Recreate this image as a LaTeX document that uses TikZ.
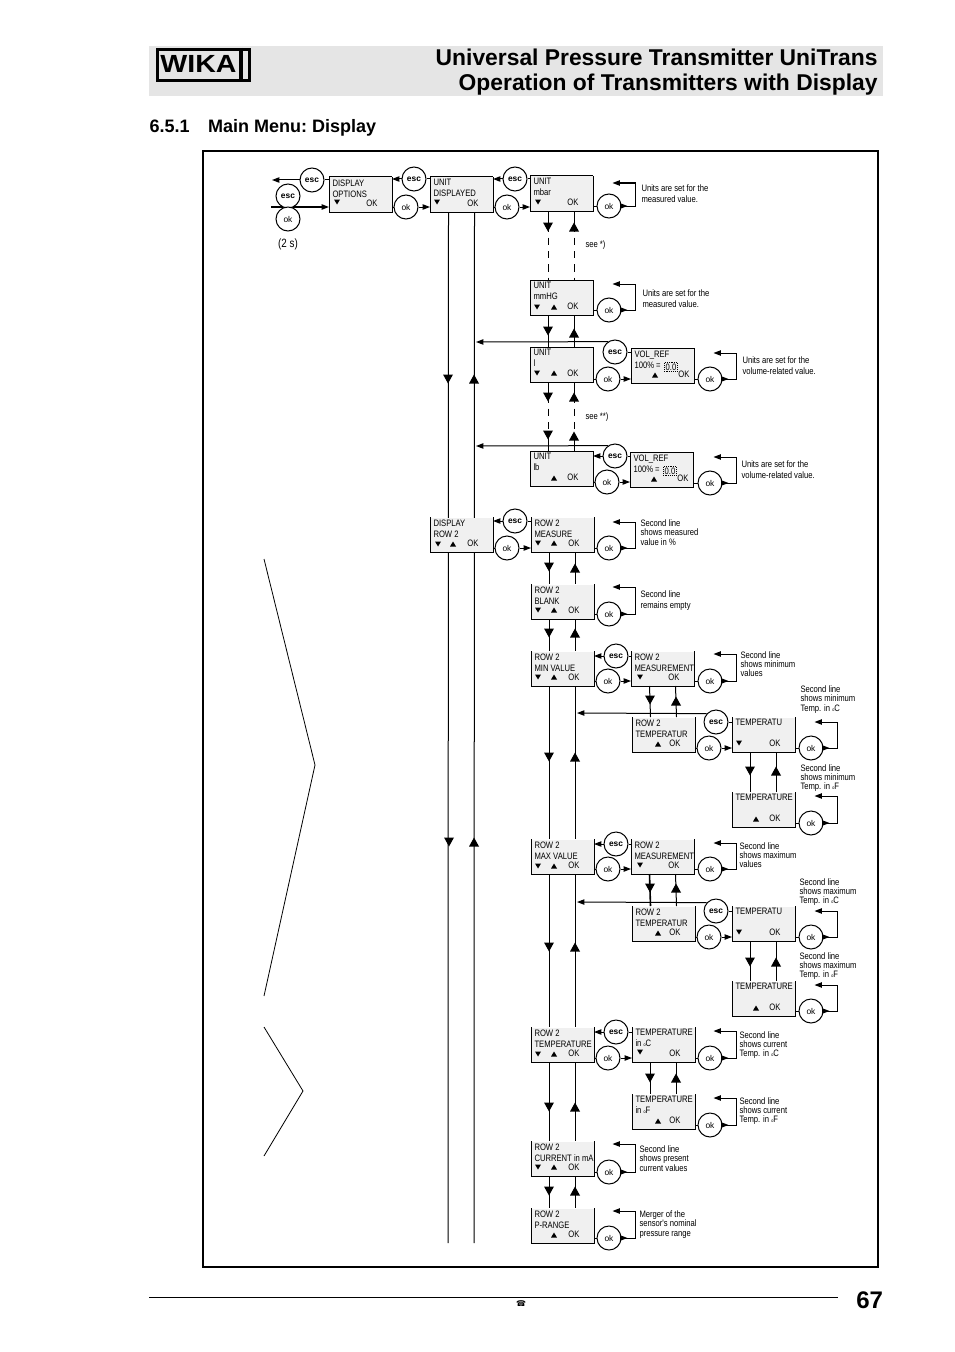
\documentclass[tikz,border=0pt]{standalone}
\usepackage{fontspec}
\setmainfont{Liberation Sans}
\newfontfamily\narrowfont[FakeStretch=0.82]{Liberation Sans}
\newfontfamily\logofont[FakeStretch=1.15]{Liberation Sans}
\newfontfamily\phonefont{DejaVu Sans}
\usetikzlibrary{arrows.meta}

\tikzset{every picture/.style={line width=0.75pt}}
\tikzset{
	lcdbox/.style={fill=black!6,anchor=north west,inner sep=0,minimum width=46.5pt,minimum height=25.5pt},
	lcdtext/.style={font=\narrowfont\fontsize{7}{8.25}\selectfont,anchor=north west,inner sep=0,align=left},
	oktext/.style={font=\narrowfont\fontsize{7}{8.25}\selectfont,inner sep=0},
	note/.style={font=\narrowfont\fontsize{7}{7}\selectfont,anchor=west,inner sep=0,align=left},
	okbtn/.style={circle,draw,fill=white,inner sep=0,minimum size=18pt,font=\fontsize{6.3}{7}\selectfont},
	escbtn/.style={okbtn,font=\bfseries\fontsize{6.3}{7}\selectfont},
	smalltip/.style={-{Triangle[length=5.5pt,width=4pt]}},
	dnleg/.style={xshift=-9.75pt},
	upleg/.style={xshift=9.75pt},
	legdash/.style={dash pattern=on 5.5pt off 4.5pt},
	valuebox/.style={oktext,draw,dash pattern=on 0.8pt off 0.8pt,line width=0.3pt,inner sep=1pt},
	keydn/.pic={\fill (-3,2.5) -- (3,2.5) -- (0,-2.5) -- cycle;},
	keyup/.pic={\fill (-3,-2.5) -- (3,-2.5) -- (0,2.5) -- cycle;},
	flowdn/.pic={\fill (-5,4.5) -- (5,4.5) -- (0,-4.5) -- cycle;},
	flowup/.pic={\fill (-5,-4.5) -- (5,-4.5) -- (0,4.5) -- cycle;},
}

% display box: name, corner, text; the optional value moves the OK
\newcommand{\lcd}[5][43]{
	\node[lcdbox] (#2) at (#3,#4) {};
	\draw (#2.north west) -- (#2.south west) -- (#2.south east) -- (#2.north east);
	\node[lcdtext] (#2-text) at (#3+3,#4+2) {#5};
	\node[oktext] (#2-ok) at (#3+#1,#4+26) {OK};
}
\newcommand{\lcdtop}[1]{\draw (#1.north west) -- (#1.north east);}
% esc back to the left box, ok on to the right box
\newcommand{\escback}[5]{
	\node[escbtn] (#1) at (#4,#5) {esc};
	\draw (#3.west |- #1) -- (#1.east);
	\draw[smalltip] (#1.west) -- (#1.west -| #2.east);
}
\newcommand{\okfwd}[5]{
	\node[okbtn] (#1) at (#4,#5) {ok};
	\draw (#1.west -| #2.east) -- (#1.west);
	\draw[smalltip] (#1.east) -- (#1.east -| #3.west);
}
% ok that returns to its own box
\newcommand{\okloop}[5][26]{
	\node[okbtn] (#2) at (#4,#5) {ok};
	\draw (#2.west -| #3.east) -- (#2.west);
	\draw[smalltip] (#2.east) -- ++(14,0) |- ++(-23,-#1);
	\draw[smalltip] (#2.east) -- ++(6,0);
}
\newcommand{\degmark}{{\fontsize{3.5}{4}\selectfont o}}

\begin{document}
\begin{tikzpicture}[x=0.75pt,y=0.75pt,yscale=-1,xscale=1]
	\useasboundingbox (0,0) rectangle (954,1352);

	%Header
	\fill[black!10] (149,46) rectangle (883,96);
	\node[draw,line width=2.4pt,minimum width=69pt,minimum height=23pt,inner sep=0,anchor=north west] (logo) at (155.5,48) {};
	\draw[line width=2.4pt] (241,48) -- (241,79);
	\node[font=\logofont\bfseries\fontsize{18.6}{20}\selectfont,inner sep=0] (logotext) at (198.5,64) {WIKA};
	\node[font=\bfseries\fontsize{17.13}{20}\selectfont,anchor=base east,inner sep=0] (title1) at (878,66) {Universal Pressure Transmitter UniTrans};
	\node[font=\bfseries\fontsize{17.13}{20}\selectfont,anchor=base east,inner sep=0] (title2) at (878,90.5) {Operation of Transmitters with Display};
	\node[font=\bfseries\fontsize{13.5}{16}\selectfont\frenchspacing,anchor=base west,inner sep=0] (section) at (149,133) {6.5.1\hspace{14pt}Main Menu: Display};

	%Frame
	\draw[line width=1.2pt] (203,151) rectangle (878,1267);

	%Brackets on the left
	\draw[line width=0.6pt] (264,559) -- (315,765) -- (264,996);
	\draw[line width=0.6pt] (264,1027) -- (303,1091) -- (264,1156);

	%Top row
	\lcd{options}{329}{177}{DISPLAY\\OPTIONS} \lcdtop{options}
	\path (337,202) pic {keydn};
	\lcd{unitdisp}{430}{177}{UNIT\\DISPLAYED} \lcdtop{unitdisp}
	\path (437,202) pic {keydn};
	\lcd{mbar}{530}{176}{UNIT\\mbar} \lcdtop{mbar}
	\path (538,202) pic {keydn};
	\coordinate (entryin) at (271,207);
	\coordinate (entryout) at (272,180);
	\draw[smalltip,line width=1pt] (entryin) -- (entryin -| options.west);
	\node[escbtn] (esc0) at (312,180) {esc};
	\draw (options.west |- esc0) -- (esc0.east);
	\draw[smalltip] (esc0.west) -- (entryout);
	\node[escbtn] (esc00) at (288,196) {esc};
	\node[okbtn] (ok00) at (288,219) {ok};
	\node[font=\narrowfont\fontsize{9}{10}\selectfont,inner sep=0] (holdtime) at (288,244) {(2 s)};
	\escback{esc1}{options}{unitdisp}{414}{179}
	\okfwd{ok1}{options}{unitdisp}{406}{207}
	\escback{esc2}{unitdisp}{mbar}{515}{179}
	\okfwd{ok2}{unitdisp}{mbar}{507}{207}
	\okloop[23]{okmbar}{mbar}{609}{206}
	\node[note] (notembar) at (641,193.5) {Units are set for the\\[1.3pt]measured value.};

	%Long lines
	\coordinate (longdn) at (448,1243);
	\coordinate (longup) at (474,1243);
	\draw ([dnleg]unitdisp.south) -- (longdn);
	\draw ([upleg]unitdisp.south) -- (longup);
	\path (448,379) pic {flowdn};
	\path (474,379) pic {flowup};
	\path (449,842) pic {flowdn};
	\path (474,842) pic {flowup};

	%Units
	\lcd{mmhg}{530}{280}{UNIT\\mmHG} \lcdtop{mmhg}
	\path (537,307) pic {keydn};
	\path (554,307) pic {keyup};
	\okloop{okmmhg}{mmhg}{609}{310}
	\node[note] (notemmhg) at (642,298.5) {Units are set for the\\[1.3pt]measured value.};
	\draw ([dnleg]mbar.south) -- +(0,15);
	\draw ([upleg]mbar.south) -- +(0,15);
	\draw[legdash] ([dnleg]mbar.south) -- ([dnleg]mmhg.north);
	\draw[legdash] ([upleg]mbar.south) -- ([upleg]mmhg.north);
	\path (548,227) pic {flowdn};
	\path (574,227) pic {flowup};
	\node[note] (seeone) at (585,245) {see *)};

	\lcd{unitl}{530}{347}{UNIT\\l} \lcdtop{unitl}
	\path (537,373) pic {keydn};
	\path (554,373) pic {keyup};
	\draw ([dnleg]mmhg.south) -- ([dnleg]unitl.north);
	\draw[line width=1.2pt] ([upleg]mmhg.south) -- ([upleg]unitl.north);
	\path (548,331) pic {flowdn};
	\path (574,333) pic {flowup};

	\lcd[53]{volone}{631}{348}{VOL\_REF\\100\% =} \lcdtop{volone}
	\path (655,375) pic {keyup};
	\node[valuebox] (volonevalue) at (671,367) {0.0};
	\node[escbtn] (esc3) at (615,352) {esc};
	\coordinate (hitone) at (476,342);
	\draw (volone.west |- esc3) -- (esc3.east);
	\draw[smalltip] (esc3.124) -- (hitone);
	\okfwd{ok3}{unitl}{volone}{608}{379}
	\okloop{okvolone}{volone}{710}{379}
	\node[note] (notevolone) at (742,366) {Units are set for the\\[1.3pt]volume-related value.};

	\lcd{lb}{530}{451}{UNIT\\lb} \lcdtop{lb}
	\path (554,478) pic {keyup};
	\draw ([dnleg]unitl.south) -- +(0,14);
	\draw ([upleg]unitl.south) -- +(0,14);
	\draw[legdash] ([dnleg]unitl.south) -- ([dnleg]lb.north);
	\draw[legdash] ([upleg]unitl.south) -- ([upleg]lb.north);
	\draw ([dnleg]lb.north) -- +(0,-15);
	\draw ([upleg]lb.north) -- +(0,-15);
	\path (548,397) pic {flowdn};
	\path (574,397) pic {flowup};
	\path (548,435) pic {flowdn};
	\path (574,436) pic {flowup};
	\node[note] (seetwo) at (585,417) {see **)};

	\lcd[53]{voltwo}{630}{452}{VOL\_REF\\100\% =} \lcdtop{voltwo}
	\path (654,479) pic {keyup};
	\node[valuebox] (voltwovalue) at (670,471) {0.0};
	\escback{esc4}{lb}{voltwo}{615}{456}
	\coordinate (hittwo) at (476,446);
	\draw[smalltip] (esc4.124) -- (hittwo);
	\okfwd{ok4}{lb}{voltwo}{607}{482}
	\okloop{okvoltwo}{voltwo}{710}{483}
	\node[note] (notevoltwo) at (741,470) {Units are set for the\\[1.3pt]volume-related value.};

	%Display row 2
	\lcd{disprow}{430}{517}{DISPLAY\\ROW 2}
	\path (438,544) pic {keydn};
	\path (453,544) pic {keyup};
	\lcd{measure}{531}{517}{ROW 2\\MEASURE}
	\path (538,543) pic {keydn};
	\path (554,543) pic {keyup};
	\escback{esc5}{disprow}{measure}{515}{521}
	\okfwd{ok5}{disprow}{measure}{507}{548}
	\okloop{okmeasure}{measure}{609}{548}
	\node[note] (notemeasure) at (640,532.5) {Second line\\shows measured\\value in \%};

	\lcd{blank}{531}{584}{ROW 2\\BLANK}
	\path (538,610) pic {keydn};
	\path (554,610) pic {keyup};
	\draw ([dnleg]measure.south) -- ([dnleg]blank.north);
	\draw ([upleg]measure.south) -- ([upleg]blank.north);
	\path (549,567) pic {flowdn};
	\path (575,568) pic {flowup};
	\okloop[27]{okblank}{blank}{609}{614}
	\node[note] (noteblank) at (640,600.5) {Second line\\[1.3pt]remains empty};

	%Minimum value
	\lcd{minval}{531}{651}{ROW 2\\MIN VALUE}
	\path (538,677) pic {keydn};
	\path (554,677) pic {keyup};
	\draw ([dnleg]blank.south) -- ([dnleg]minval.north);
	\draw ([upleg]blank.south) -- ([upleg]minval.north);
	\path (549,633) pic {flowdn};
	\path (575,633) pic {flowup};
	\lcd{measmin}{631}{651}{ROW 2\\MEASUREMENT}
	\path (640,677) pic {keydn};
	\escback{esc6}{minval}{measmin}{616}{656}
	\okfwd{ok6}{minval}{measmin}{608}{681}
	\okloop[27]{okmeasmin}{measmin}{710}{681}
	\node[note] (notemeasmin) at (740,664) {Second line\\shows minimum\\values};

	\lcd{turmin}{632}{717}{ROW 2\\TEMPERATUR}
	\path (658,744) pic {keyup};
	\draw ([dnleg]measmin.south) -- ([dnleg]turmin.north);
	\draw ([upleg]measmin.south) -- ([upleg]turmin.north);
	\path (650,700) pic {flowdn};
	\path (676,701) pic {flowup};
	\lcd{tumin}{732}{717}{TEMPERATU}
	\path (739,743) pic {keydn};
	\node[escbtn] (esc7) at (716,722) {esc};
	\coordinate (hitmin) at (577,713);
	\draw (tumin.west |- esc7) -- (esc7.east);
	\draw[smalltip] (esc7.138) -- (hitmin);
	\okfwd{ok7}{turmin}{tumin}{709}{748}
	\okloop{oktumin}{tumin}{811}{748}
	\node[note] (notetumin) at (800,699.5) {Second line\\shows minimum\\Temp. in \degmark C};

	\lcd{turemin}{732}{792}{TEMPERATURE}
	\path (756,819) pic {keyup};
	\draw ([dnleg]tumin.south) -- ([dnleg]turemin.north);
	\draw ([upleg]tumin.south) -- ([upleg]turemin.north);
	\path (750,771) pic {flowdn};
	\path (776,771) pic {flowup};
	\okloop[27]{okturemin}{turemin}{811}{823}
	\node[note] (noteturemin) at (800,778) {Second line\\shows minimum\\Temp. in \degmark F};

	%Maximum value
	\lcd{maxval}{531}{839}{ROW 2\\MAX VALUE}
	\path (538,866) pic {keydn};
	\path (554,866) pic {keyup};
	\draw ([dnleg]minval.south) -- ([dnleg]maxval.north);
	\draw ([upleg]minval.south) -- ([upleg]maxval.north);
	\path (549,757) pic {flowdn};
	\path (575,757) pic {flowup};
	\lcd{measmax}{631}{839}{ROW 2\\MEASUREMENT}
	\path (640,865) pic {keydn};
	\escback{esc8}{maxval}{measmax}{616}{844}
	\okfwd{ok8}{maxval}{measmax}{608}{869}
	\okloop{okmeasmax}{measmax}{710}{869}
	\node[note] (notemeasmax) at (739,855) {Second line\\shows maximum\\values};

	\lcd{turmax}{632}{906}{ROW 2\\TEMPERATUR}
	\path (658,933) pic {keyup};
	\draw[line width=1.2pt] ([dnleg]measmax.south) -- ([dnleg]turmax.north);
	\draw ([upleg]measmax.south) -- ([upleg]turmax.north);
	\path (650,888) pic {flowdn};
	\path (676,888) pic {flowup};
	\lcd{tumax}{732}{906}{TEMPERATU}
	\path (739,932) pic {keydn};
	\node[escbtn] (esc9) at (716,911) {esc};
	\coordinate (hitmax) at (577,902);
	\draw (tumax.west |- esc9) -- (esc9.east);
	\draw[smalltip] (esc9.138) -- (hitmax);
	\okfwd{ok9}{turmax}{tumax}{709}{937}
	\okloop{oktumax}{tumax}{811}{937}
	\node[note] (notetumax) at (799,892) {Second line\\shows maximum\\Temp. in \degmark C};

	\lcd{turemax}{732}{981}{TEMPERATURE}
	\path (756,1008) pic {keyup};
	\draw ([dnleg]tumax.south) -- ([dnleg]turemax.north);
	\draw ([upleg]tumax.south) -- ([upleg]turemax.north);
	\path (750,962) pic {flowdn};
	\path (776,962) pic {flowup};
	\okloop{okturemax}{turemax}{811}{1011}
	\node[note] (noteturemax) at (799,966) {Second line\\shows maximum\\Temp. in \degmark F};

	%Temperature
	\lcd{rowtemp}{531}{1027}{ROW 2\\TEMPERATURE}
	\path (538,1054) pic {keydn};
	\path (554,1054) pic {keyup};
	\draw ([dnleg]maxval.south) -- ([dnleg]rowtemp.north);
	\draw ([upleg]maxval.south) -- ([upleg]rowtemp.north);
	\path (549,947) pic {flowdn};
	\path (575,947) pic {flowup};
	\lcd{tempc}{632}{1027}{TEMPERATURE\\in \degmark C}
	\path (640,1052) pic {keydn};
	\escback{esc10}{rowtemp}{tempc}{616}{1032}
	\okfwd{ok10}{rowtemp}{tempc}{608}{1058}
	\okloop[27]{oktempc}{tempc}{710}{1058}
	\node[note] (notetempc) at (739,1045) {Second line\\shows current\\Temp. in \degmark C};

	\lcd{tempf}{632}{1094}{TEMPERATURE\\in \degmark F}
	\path (658,1121) pic {keyup};
	\draw[line width=1.2pt] ([dnleg]tempc.south) -- ([dnleg]tempf.north);
	\draw ([upleg]tempc.south) -- ([upleg]tempf.north);
	\path (650,1078) pic {flowdn};
	\path (676,1078) pic {flowup};
	\okloop[27]{oktempf}{tempf}{710}{1125}
	\node[note] (notetempf) at (739,1111) {Second line\\shows current\\Temp. in \degmark F};

	%Current and range
	\lcd{current}{531}{1141}{ROW 2\\CURRENT in mA}
	\path (538,1167) pic {keydn};
	\path (554,1167) pic {keyup};
	\draw ([dnleg]rowtemp.south) -- ([dnleg]current.north);
	\draw ([upleg]rowtemp.south) -- ([upleg]current.north);
	\path (549,1107) pic {flowdn};
	\path (575,1107) pic {flowup};
	\okloop[28]{okcurrent}{current}{609}{1172}
	\node[note] (notecurrent) at (639,1158.5) {Second line\\shows present\\current values};

	\lcd{prange}{531}{1208}{ROW 2\\P-RANGE}
	\path (554,1235) pic {keyup};
	\draw ([dnleg]current.south) -- ([dnleg]prange.north);
	\draw ([upleg]current.south) -- ([upleg]prange.north);
	\path (549,1191) pic {flowdn};
	\path (575,1191) pic {flowup};
	\okloop[27]{okprange}{prange}{609}{1238}
	\node[note] (noteprange) at (639,1224.5) {Merger of the\\sensor's nominal\\pressure range};

	%Footer
	\draw (149,1297) -- (838,1297);
	\node[font=\phonefont\fontsize{6}{7}\selectfont,inner sep=0] (phone) at (521,1303.5) {☎};
	\node[font=\bfseries\fontsize{18}{20}\selectfont,anchor=east,inner sep=0] (pagenumber) at (883.5,1300) {67};

\end{tikzpicture}
\end{document}
